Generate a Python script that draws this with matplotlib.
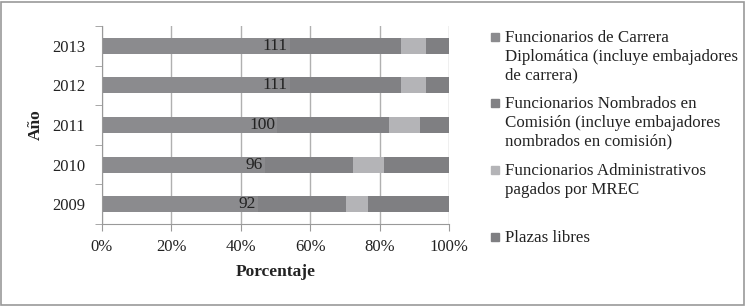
import matplotlib.pyplot as plt
import numpy as np
from matplotlib.patches import Rectangle

plt.rcParams['font.family'] = ['Liberation Serif', 'DejaVu Serif']

years = ['2009', '2010', '2011', '2012', '2013']
carrera_count = [92, 96, 100, 111, 111]
# percent shares
carrera = np.array([45.0, 46.9, 50.5, 54.1, 54.1])
comision = np.array([25.3, 25.4, 32.2, 32.0, 32.0])
admin = np.array([6.4, 8.9, 9.1, 7.2, 7.2])
libres = 100 - carrera - comision - admin

labels = ['Funcionarios de Carrera\nDiplomática (incluye embajadores\nde carrera)',
          'Funcionarios Nombrados en\nComisión (incluye embajadores\nnombrados en comisión)',
          'Funcionarios Administrativos\npagados por MREC',
          'Plazas libres']
colors = ['#8b8b8e', '#818184', '#b4b4b7', '#7f7f82']

fig = plt.figure(figsize=(7.46, 3.06), dpi=100)
ax = fig.add_axes([0.1367, 0.268, 0.4651, 0.647])

y = np.arange(len(years))
left = np.zeros(len(years))
for vals, c in zip([carrera, comision, admin, libres], colors):
    ax.barh(y, vals, left=left, height=0.4, color=c, zorder=2)
    left = left + vals

for i in range(len(years)):
    ax.text(carrera[i] - 0.6, y[i], str(carrera_count[i]), ha='right', va='center',
            fontsize=12.5, color='#222222', zorder=3)

ax.set_xlim(0, 100)
ax.set_ylim(-0.5, 4.5)
ax.set_xticks(np.arange(0, 101, 20))
ax.set_xticklabels([f'{v}%' for v in range(0, 101, 20)], fontsize=12, color='#222222')
ax.set_yticks(y)
ax.set_yticklabels(years, fontsize=12, color='#222222')
ax.set_yticks(np.arange(-0.5, 4.6, 1), minor=True)
ax.tick_params(axis='y', which='major', length=0, pad=12)
ax.tick_params(axis='y', which='minor', length=5, color='#999999')
ax.tick_params(axis='x', length=5, color='#999999', pad=6)
ax.xaxis.grid(True, color='#b0b0b0', linewidth=1, zorder=0)
for s in ['top', 'right']:
    ax.spines[s].set_visible(False)
for s in ['left', 'bottom']:
    ax.spines[s].set_color('#999999')
ax.set_xlabel('Porcentaje', fontsize=12.5, fontweight='bold', color='#222222', labelpad=6)
ax.set_ylabel('Año', fontsize=12.5, fontweight='bold', color='#222222', labelpad=6)

# legend drawn by hand to keep Excel-like spacing
leg_y = [38, 104, 171, 238]
for lab, c, yy in zip(labels, colors, leg_y):
    fig.patches.append(Rectangle((491 / 746, 1 - (yy + 3) / 306), 8 / 746, 8 / 306,
                                 transform=fig.transFigure, color=c))
    fig.text(505 / 746, 1 - (yy - 8) / 306, lab, ha='left', va='top', fontsize=12.2,
             color='#222222', linespacing=1.22)

fig.patches.append(Rectangle((0.002, 0.004), 0.995, 0.99, transform=fig.transFigure,
                             fill=False, edgecolor='#999999', linewidth=1.2))

fig.savefig('out.png', dpi=100)
